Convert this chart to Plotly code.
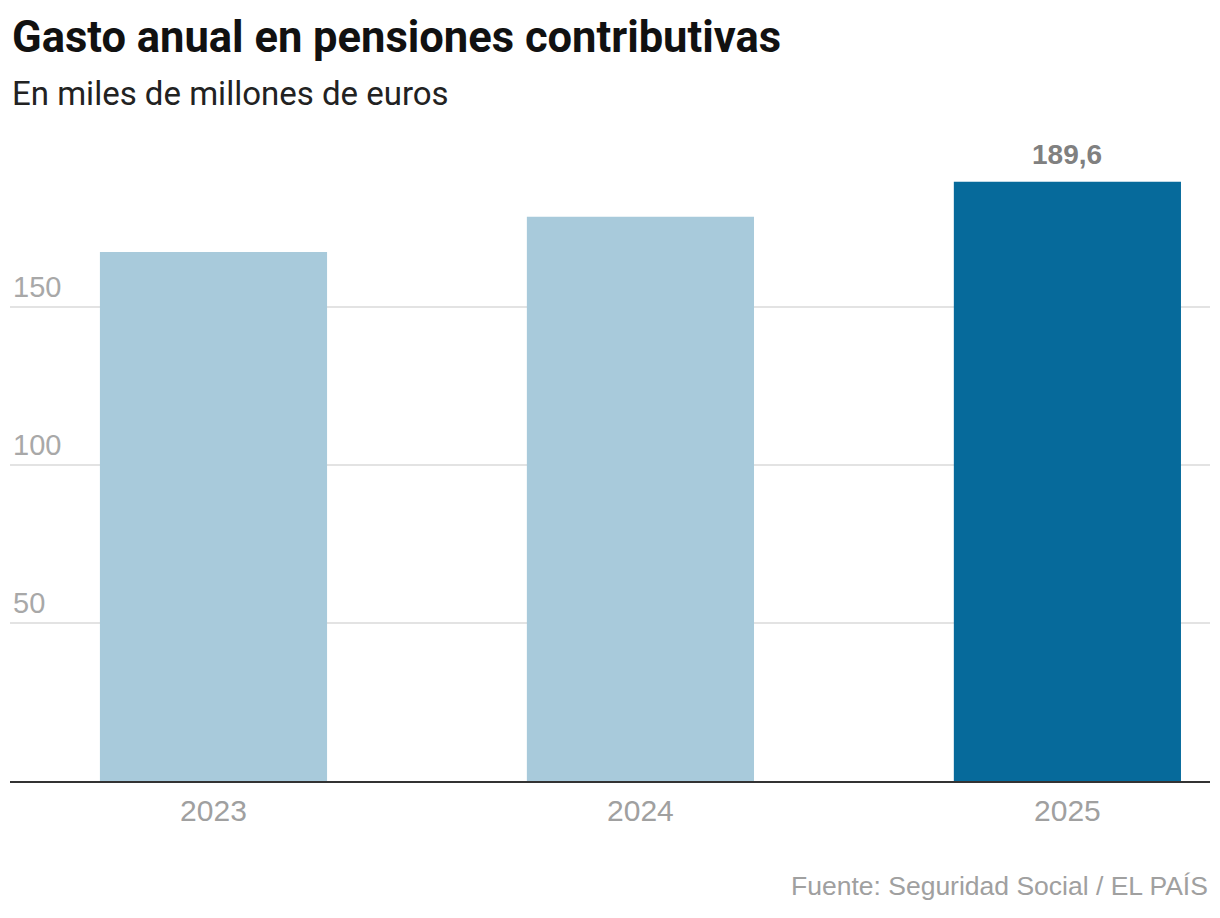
import plotly.graph_objects as go

years = ["2023", "2024", "2025"]
values = [167.4, 178.5, 189.6]
labels = ["", "", "189,6"]
bar_colors = ["#a8cadb", "#a8cadb", "#066a9b"]
y_ticks = [50, 100, 150]
y_tick_text = ["50", "100", "150"]

# page body has an 8px margin
W, H = 1204, 902
ML, MR, MT, MB = 2, 2, 132, 129
PLOT_TOP, PLOT_BOTTOM = 140, 781
PH = PLOT_BOTTOM - PLOT_TOP

def py(ypix):
    return (PLOT_BOTTOM - ypix) / PH

fig = go.Figure()
fig.add_trace(go.Bar(
    x=list(range(len(years))), y=values,
    marker=dict(color=bar_colors, line=dict(width=0)),
    width=0.532, hoverinfo="skip",
))

for i, (v, t) in enumerate(zip(values, labels)):
    if t:
        fig.add_annotation(x=i, y=v, xref="x", yref="y", text=f"<b>{t}</b>",
                           showarrow=False, yanchor="bottom", yshift=10,
                           font=dict(family="Liberation Sans, Arial", size=28, color="#808080"))

fig.add_annotation(x=0, y=py(37), xref="paper", yref="paper", xanchor="left", yanchor="middle",
                   text="<b>Gasto anual en pensiones contributivas</b>", showarrow=False,
                   font=dict(family="Roboto", size=43.5, color="#111111"))
fig.add_annotation(x=0, y=py(93), xref="paper", yref="paper", xanchor="left", yanchor="middle",
                   text="En miles de millones de euros", showarrow=False,
                   font=dict(family="Roboto", size=33, color="#222222"))
fig.add_annotation(x=1, y=py(886), xref="paper", yref="paper", xanchor="right", yanchor="middle",
                   text="Fuente: Seguridad Social / EL PAÍS", showarrow=False,
                   font=dict(family="Liberation Sans, Arial", size=26.5, color="#a0a0a0"))

fig.update_layout(
    width=W, height=H,
    margin=dict(l=ML, r=MR, t=MT, b=MB, pad=0),
    paper_bgcolor="white", plot_bgcolor="white",
    showlegend=False,
    xaxis=dict(
        range=[-0.4766, 2.334], tickmode="array",
        tickvals=list(range(len(years))), ticktext=years,
        showgrid=False, zeroline=False, showline=True,
        linecolor="#333333", linewidth=2,
        ticks="outside", ticklen=2, tickcolor="rgba(0,0,0,0)",
        tickfont=dict(family="Liberation Sans, Arial", size=30, color="#a0a0a0"),
        fixedrange=True,
    ),
    yaxis=dict(
        range=[0, 202.8], tickmode="array", tickvals=y_ticks, ticktext=y_tick_text,
        showgrid=True, gridcolor="#e3e3e3", gridwidth=2, zeroline=False,
        showline=False, ticks="", ticklabelposition="inside top",
        tickfont=dict(family="Liberation Sans, Arial", size=29, color="#a8a8a8"),
        fixedrange=True,
    ),
)

fig.write_html("out.html", config={"displayModeBar": False})
